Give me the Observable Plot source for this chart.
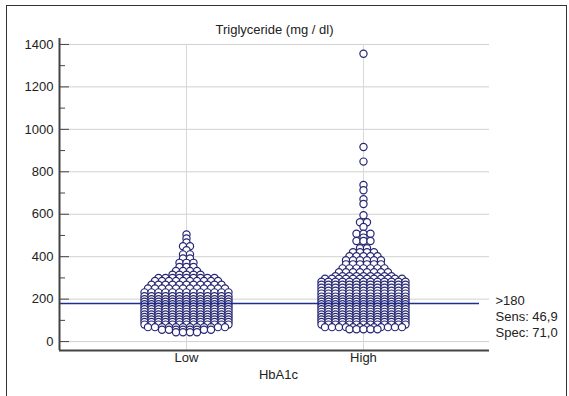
<!DOCTYPE html>
<html><head><meta charset="utf-8">
<script src="https://cdn.jsdelivr.net/npm/d3@7"></script>
<script src="https://cdn.jsdelivr.net/npm/@observablehq/plot@0.6"></script>
<style>
body{margin:0;background:#fff;}
#wrap{position:relative;width:569px;height:396px;overflow:hidden;}
#border{position:absolute;left:6px;top:5px;width:561px;height:420px;border:1.5px solid #333;box-sizing:border-box;}
#chart{position:absolute;left:0;top:0;}
</style></head><body>
<div id="wrap"><div id="border"></div><div id="chart"></div></div>
<script>
const groups = ["Low", "High"];
// [value, number of dots in that row]
const lowRows = [[505,1],[486,1],[467,1],[449,2],[430,1],[411,2],[392,2],[371,3],[352,3],[333,4],[315,5],[300,9],[286,10],[268,11],[250,12],[232,13],[214,13],[200,13],[188,13],[176,13],[164,13],[152,13],[140,13],[128,13],[116,13],[104,13],[92,13],[80,13],[68,12],[56,8],[44,4]];
const highRows = [[1356,1],[917,1],[848,1],[738,1],[713,1],[671,1],[648,1],[595,1],[562,2],[540,1],[508,3],[490,1],[474,3],[440,2],[421,4],[402,5],[383,6],[364,6],[345,7],[327,8],[308,9],[296,12],[282,13],[268,13],[254,13],[240,13],[226,13],[212,13],[200,13],[188,13],[176,13],[164,13],[152,13],[140,13],[128,13],[116,13],[104,13],[92,13],[80,13],[68,12],[58,5]];
const yTicks = [0, 200, 400, 600, 800, 1000, 1200, 1400];
const yMinorTicks = [100, 300, 500, 700, 900, 1100, 1300];
const cutoff = 180;
const annotation = [">180", "Sens: 46,9", "Spec: 71,0"];
const title = "Triglyceride (mg / dl)";
const xLabel = "HbA1c";

const rowsByGroup = {Low: lowRows, High: highRows};
const points = [];
groups.forEach((g, gi) => {
  for (const [value, count] of rowsByGroup[g]) {
    for (let i = 0; i < count; i++) points.push({group: g, pos: gi + 1, value, slot: i - (count - 1) / 2});
  }
});
const dotStep = 7 / 177;
const xDomain = [0.2825, 2.712];
const yDomain = [-42, 1428];

const plot = Plot.plot({
  width: 569, height: 396,
  marginLeft: 59, marginRight: 80, marginTop: 38, marginBottom: 46,
  style: {fontFamily: "'Liberation Sans', Arial, sans-serif", fontSize: "13px", color: "#222", background: "transparent"},
  x: {domain: xDomain, axis: null},
  y: {domain: yDomain, axis: null},
  marks: [
    Plot.gridY(yTicks, {stroke: "#d0d0d0", strokeOpacity: 1}),
    Plot.ruleX([1, 2], {y1: yDomain[0], y2: yTicks[yTicks.length - 1], stroke: "#d8d8d8"}),
    Plot.dot(points, {x: d => d.pos + d.slot * dotStep, y: "value", r: 3.6, stroke: "#262673", fill: "white", strokeWidth: 1.2}),
    Plot.ruleY([cutoff], {stroke: "#1f2d8f", strokeWidth: 1.5, insetRight: 10}),
    Plot.axisY(yTicks, {anchor: "left", tickSize: 0, tickPadding: 6, label: null, tickFormat: d => String(d)}),
    Plot.axisY(yTicks, {anchor: "right", frameAnchor: "left", tickSize: 9, fill: "none", label: null, stroke: "#444"}),
    Plot.axisY(yMinorTicks, {anchor: "right", frameAnchor: "left", tickSize: 5, fill: "none", label: null, stroke: "#444"}),
    Plot.ruleX([xDomain[0]], {stroke: "#444", strokeWidth: 2}),
    Plot.ruleY([yDomain[0]], {stroke: "#444", strokeWidth: 2}),
    Plot.axisX([1, 2], {tickSize: 0, tickPadding: 2, tickFormat: d => groups[d - 1], label: null}),
    Plot.text([title], {frameAnchor: "top", dy: -14}),
    Plot.text([xLabel], {frameAnchor: "bottom", dy: 28, dx: 4}),
    Plot.text([annotation.join("\n")], {x: xDomain[1], y: cutoff, textAnchor: "start", lineAnchor: "top", dx: 6, dy: -9, lineHeight: 1.2})
  ]
});
document.getElementById("chart").appendChild(plot);
</script>
</body></html>
